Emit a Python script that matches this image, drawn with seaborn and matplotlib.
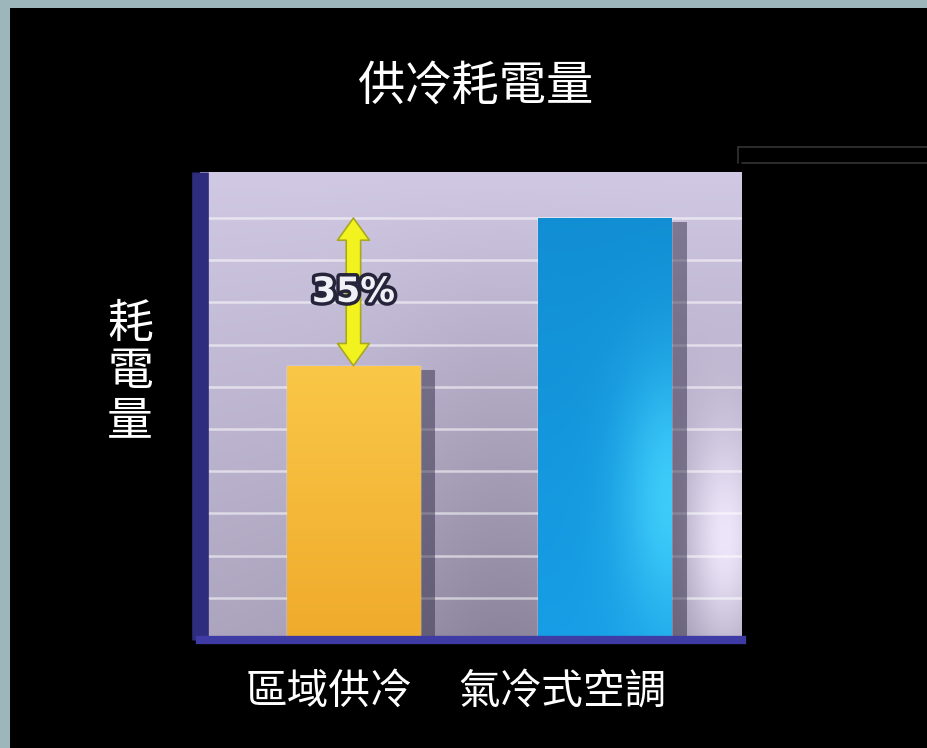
"""
供冷耗電量 — district cooling vs. air-cooled AC, power consumption bar chart.
"""

import matplotlib
matplotlib.use("Agg")
import matplotlib.pyplot as plt
import matplotlib.patheffects as pe
from matplotlib.lines import Line2D
from matplotlib.patches import Rectangle
from matplotlib.transforms import ScaledTranslation
import numpy as np
import pandas as pd
import seaborn as sns

# ---------------------------------------------------------------------------
# Data
# ---------------------------------------------------------------------------

categories = ["區域供冷", "氣冷式空調"]
values = [65, 100]
saving_label = "35%"
title_text = "供冷耗電量"
ylabel_text = "耗電量"
grid_ticks = list(range(0, 101, 10))

bar_colors = ["#f6b432", "#1699dc"]

# ---------------------------------------------------------------------------
# Figure
# ---------------------------------------------------------------------------

sns.set_theme(style="white")
plt.rcParams["font.family"] = ["Noto Sans CJK TC", "DejaVu Sans"]

W, H = 928, 748
fig = plt.figure(figsize=(W / 100, H / 100), dpi=100)
fig.patch.set_facecolor("#9db6bc")
fig.add_artist(Rectangle((10 / W, 0), 1 - 10 / W, 1 - 8 / H,
                         transform=fig.transFigure, facecolor="black",
                         edgecolor="none", zorder=0))

# faint frame lines at the upper right (from the original slide)
for y0, x0 in [(147, 738), (163, 742)]:
    fig.add_artist(Line2D([x0 / W, 1], [1 - y0 / H] * 2, color="#333333", lw=1.2))
fig.add_artist(Line2D([738 / W] * 2, [1 - 147 / H, 1 - 163 / H], color="#333333", lw=1.2))

ax_l, ax_r, ax_b, ax_t = 200, 742, 640, 172
ax = fig.add_axes([ax_l / W, 1 - ax_b / H, (ax_r - ax_l) / W, (ax_b - ax_t) / H])
ax.set_facecolor("black")

# lavender gradient backdrop
ny, nx = 240, 360
yy, xx = np.mgrid[0:1:ny * 1j, 0:1:nx * 1j]
light = np.array([0.87, 0.84, 0.95])
dark = np.array([0.52, 0.49, 0.58])
w = 0.30 + 0.55 * yy + 0.15 * (1 - xx) * (1 - yy)
w -= 0.28 * np.exp(-((xx - 0.55) / 0.22) ** 2) * (1 - yy)
w = np.clip(w, 0, 1)
img = dark + (light - dark) * w[..., None]
spot = np.exp(-((xx - 0.97) ** 2 / 0.005 + (yy - 0.22) ** 2 / 0.06))
img = img + (np.array([0.93, 0.90, 0.98]) - img) * spot[..., None]
ax.imshow(img, extent=(0, 1, 0, 1), transform=ax.transAxes, origin="lower",
          aspect="auto", zorder=0, interpolation="bicubic")

df = pd.DataFrame({"category": categories, "value": values})
sns.barplot(data=df, x="category", y="value", hue="category",
            palette=bar_colors, width=0.529, saturation=1, legend=False, ax=ax)

# bar shading: shadow + soft gradient fill clipped to each bar
grads = [
    (np.array([0.98, 0.78, 0.28]), np.array([0.94, 0.67, 0.17]), None),
    (np.array([0.07, 0.56, 0.83]), np.array([0.09, 0.62, 0.90]), np.array([0.24, 0.80, 0.98])),
]
for patch, (top_c, bot_c, hi_c) in zip(ax.patches, grads):
    patch.set_path_effects([
        pe.SimplePatchShadow(offset=(11, -3), shadow_rgbFace="#332d48", alpha=0.5),
        pe.Normal(),
    ])
    x0, y0 = patch.get_x(), patch.get_y()
    bw, bh = patch.get_width(), patch.get_height()
    gy, gx = np.mgrid[0:1:100j, 0:1:60j]
    g = bot_c + (top_c - bot_c) * gy[..., None]
    if hi_c is not None:
        s = np.exp(-((gx - 1.0) ** 2 / 0.15 + (gy - 0.33) ** 2 / 0.10))
        g = g + (hi_c - g) * s[..., None]
    im = ax.imshow(g, extent=(x0, x0 + bw, y0, y0 + bh), origin="lower",
                   aspect="auto", zorder=patch.get_zorder() + 0.1,
                   interpolation="bicubic")
    im.set_clip_path(patch)

ax.set_xlim(-0.610, 1.545)
ax.set_ylim(0, 110.9)
ax.set_yticks(grid_ticks)
ax.yaxis.grid(True, color="white", alpha=0.55, lw=1.8)
ax.set_axisbelow(True)
ax.tick_params(length=0, labelleft=False, labelbottom=False)
ax.set_xlabel("")
ax.set_ylabel("")

for side in ["top", "right"]:
    ax.spines[side].set_visible(False)
ax.spines["left"].set_color("#2e2c7c")
ax.spines["left"].set_linewidth(12)
ax.spines["left"].set_capstyle("butt")
ax.spines["bottom"].set_color("#3e3ca4")
ax.spines["bottom"].set_linewidth(6)

# saving arrow between the two bar tops: two heads pointing out from the middle
mid = (values[0] + values[1]) / 2
for end in (values[0], values[1]):
    ax.annotate("", xy=(0, end), xytext=(0, mid),
                arrowprops=dict(arrowstyle="simple,head_length=0.8,head_width=1.15,tail_width=0.52",
                                mutation_scale=20, fc="#f2f21e", ec="#a8a822", lw=1.2,
                                shrinkA=0, shrinkB=0),
                zorder=4)
ax.text(0, mid, saving_label, ha="center", va="center",
        fontsize=25, fontweight="bold", color="#f0f0f6", family="DejaVu Sans",
        zorder=5, path_effects=[pe.withStroke(linewidth=5, foreground="#26243a")])

# category labels (sit slightly left of their bars in the original)
offsets_px = [-25, -43]
for i, (name, dx) in enumerate(zip(categories, offsets_px)):
    tr = ax.get_xaxis_transform() + ScaledTranslation(dx / 100, -52 / 100, fig.dpi_scale_trans)
    ax.text(i, 0, name, transform=tr, ha="center", va="center",
            fontsize=30, color="white", clip_on=False)

fig.text(475 / W, 1 - 86 / H, title_text, ha="center", va="center",
         fontsize=34, color="white", fontweight="light")
fig.text(130 / W, 1 - 372 / H, "\n".join(ylabel_text), ha="center", va="center",
         fontsize=33, color="white", linespacing=1.0)

fig.savefig("out.png", dpi=100, facecolor=fig.get_facecolor())
